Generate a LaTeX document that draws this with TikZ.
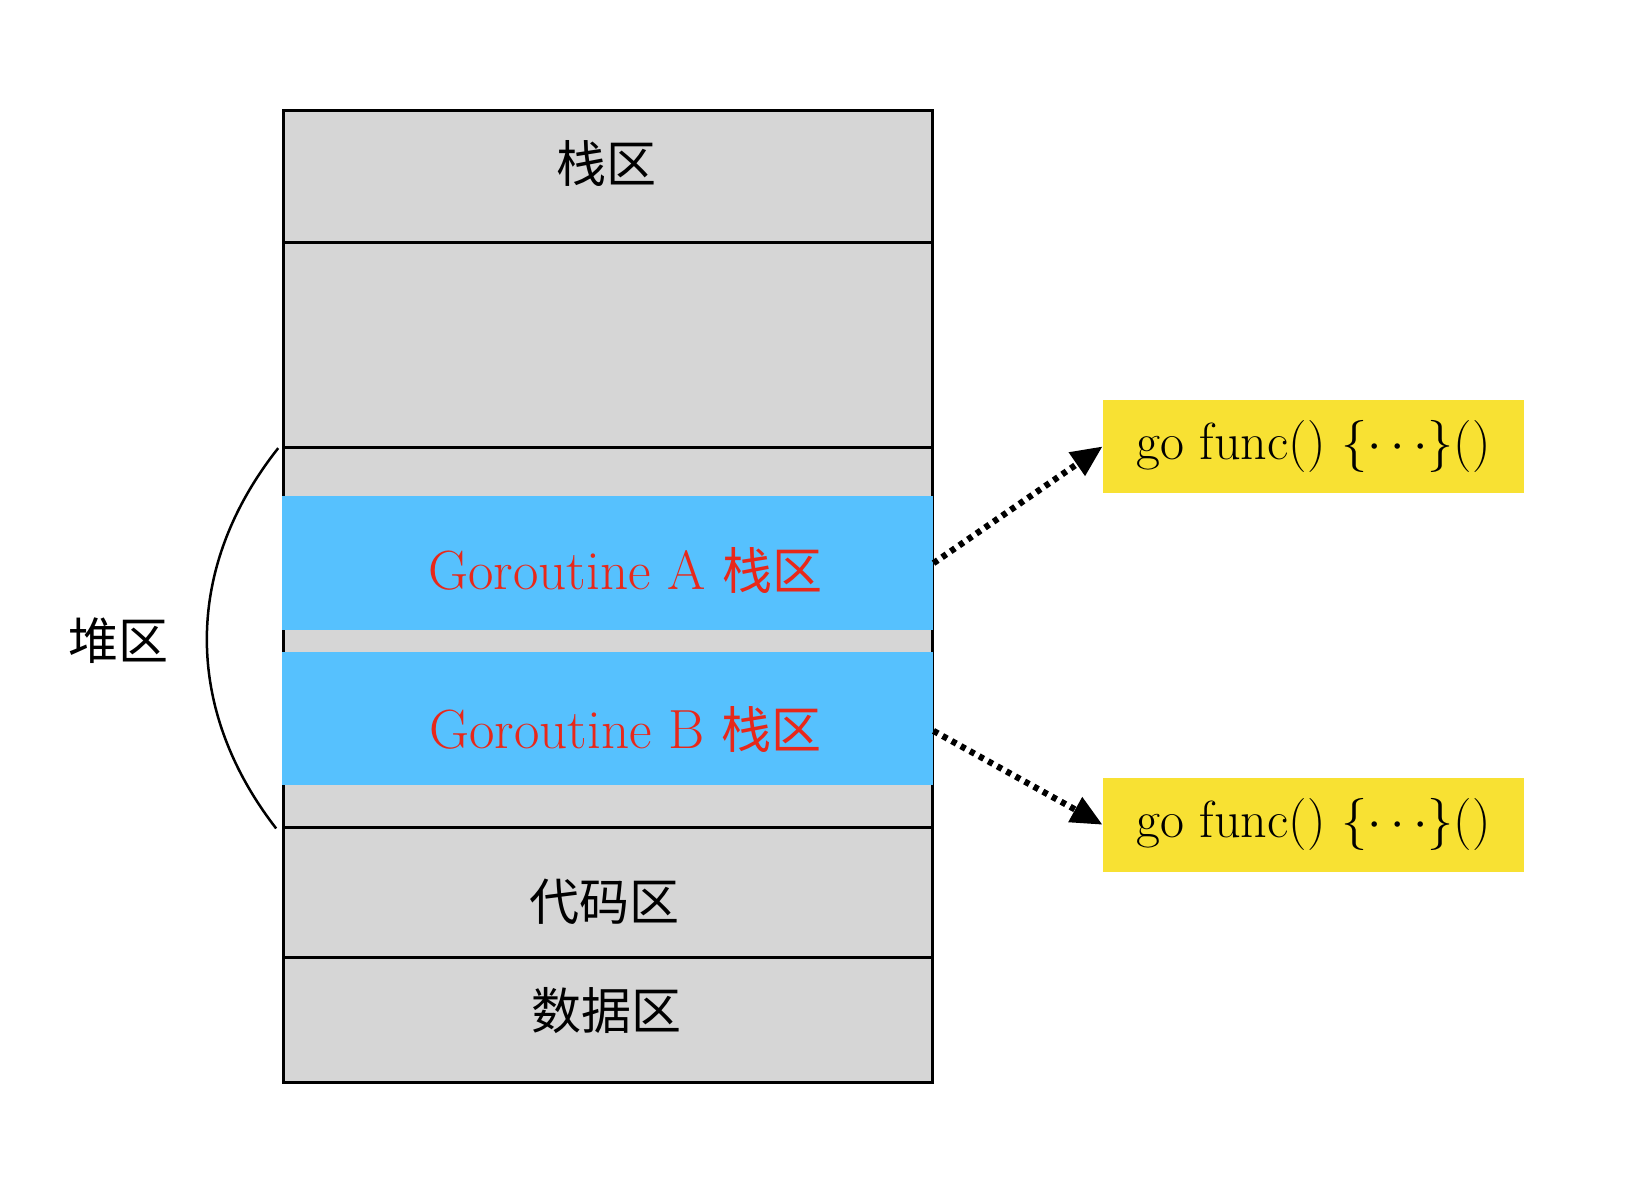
\documentclass[tikz,border=0pt]{standalone}
\usepackage{fontspec}
\newfontfamily\cjk{Noto Sans CJK SC}
\usetikzlibrary{arrows.meta}
\definecolor{cellgray}{HTML}{D6D6D6}
\definecolor{bandblue}{HTML}{56C1FE}
\definecolor{boxyellow}{HTML}{F8E133}
\definecolor{textred}{HTML}{E8281A}
\tikzset{
  cell/.style={draw=black, line width=1.4pt, fill=cellgray, anchor=north west, inner sep=0pt, minimum width=311pt},
  band/.style={fill=bandblue, anchor=north west, inner sep=0pt, minimum width=312.5pt, minimum height=64pt},
  cjklabel/.style={font=\cjk\fontsize{24}{27}\selectfont, inner sep=0pt},
  glabel/.style={font=\fontsize{26.5}{30}\selectfont, text=textred, inner sep=0pt},
  gobox/.style={fill=boxyellow, inner sep=0pt, minimum width=202pt, minimum height=45pt, anchor=north west, font=\fontsize{25}{28}\selectfont},
  link/.style={line width=3pt, dash pattern=on 2.5pt off 2.5pt, -{Triangle[length=15pt,width=13pt]}},
}
\begin{document}
\begin{tikzpicture}[x=0.5pt,y=-0.5pt]
\useasboundingbox (0,0) rectangle (1568,1140.2);
% memory column
\node[cell, minimum height=63pt] (stack) at (271,105) {};
\node[cell, minimum height=98.5pt] (free) at (271,231) {};
\node[cell, minimum height=182.5pt] (heap) at (271,428) {};
\node[cell, minimum height=62pt] (code) at (271,793) {};
\node[cell, minimum height=60pt] (data) at (271,917) {};
% goroutine stacks
\node[band] (bandA) at (270,476) {};
\node[band] (bandB) at (270,625) {};
% labels
\node[cjklabel] (tstack) at (582,157) {栈区};
\node[glabel] (tA) at (600,547) {Goroutine A {\cjk\fontsize{24}{27}\selectfont 栈区}};
\node[glabel] (tB) at (600,700) {Goroutine B {\cjk\fontsize{24}{27}\selectfont 栈区}};
\node[cjklabel] (tcode) at (580,865) {代码区};
\node[cjklabel] (tdata) at (582,970) {数据区};
\node[cjklabel] (theap) at (114,615) {堆区};
% heap bracket
\coordinate (arcTop) at (267,430);
\coordinate (arcBot) at (265,795);
\draw[line width=1.2pt] (arcTop) .. controls (176,545) and (176,680) .. (arcBot);
% go func boxes
\node[gobox] (goA) at (1058,383) {go func() \{$\cdots$\}()};
\node[gobox] (goB) at (1058,746) {go func() \{$\cdots$\}()};
% arrows
\draw[link] (bandA.east) -- (goA.west);
\draw[link] ([yshift=-6pt]bandB.east) -- (goB.west);
\end{tikzpicture}
\end{document}
